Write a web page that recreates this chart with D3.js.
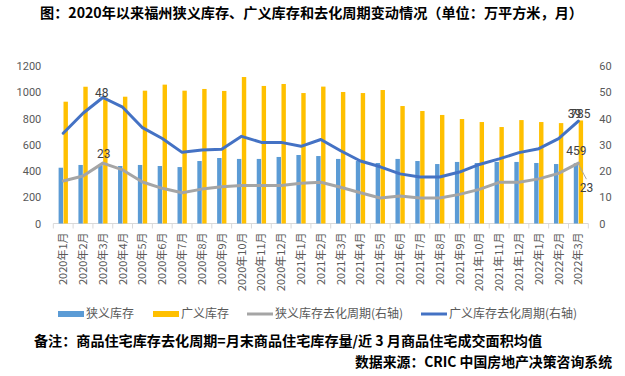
<!DOCTYPE html>
<html>
<head>
<meta charset="utf-8">
<script src="https://cdn.jsdelivr.net/npm/d3@7"></script>
<style>
  body { margin: 0; background: #fff; }
  svg text { font-family: "Noto Sans CJK SC", "Liberation Sans", sans-serif; }
  .num { font-family: Roboto, "Liberation Sans", sans-serif; }
</style>
</head>
<body>
<div id="chart"></div>
<script>
// months on the x axis
const months = ["2020年1月","2020年2月","2020年3月","2020年4月","2020年5月","2020年6月","2020年7月","2020年8月","2020年9月","2020年10月","2020年11月","2020年12月",
  "2021年1月","2021年2月","2021年3月","2021年4月","2021年5月","2021年6月","2021年7月","2021年8月","2021年9月","2021年10月","2021年11月","2021年12月",
  "2022年1月","2022年2月","2022年3月"]

// 狭义库存 / 广义库存 (万平方米, left axis)
const narrowStock = [425, 446, 445, 438, 446, 438, 430, 476, 499, 492, 492, 507, 522, 514, 492, 476, 461, 492, 476, 453, 469, 461, 469, 469, 461, 453, 459]
const broadStock = [928, 1042, 960, 966, 1012, 1058, 1012, 1025, 1010, 1116, 1048, 1063, 994, 1043, 1002, 994, 1017, 895, 857, 827, 796, 773, 735, 788, 773, 765, 785]

// 去化周期 (月, right axis)
const narrowCycle = [16.2, 18.1, 23, 20.4, 15.8, 13.4, 11.7, 13.1, 14.0, 14.5, 14.5, 14.5, 15.3, 15.7, 13.8, 11.7, 9.7, 10.5, 9.7, 9.7, 11.1, 13.0, 15.7, 15.7, 17.0, 19.1, 23]
const broadCycle = [34.4, 42, 48, 44.3, 36.5, 32.4, 27.1, 28, 28.3, 33.2, 30.9, 30.9, 29.4, 32, 27.7, 23.8, 21.6, 18.9, 17.7, 17.7, 19.6, 22.5, 24.6, 27, 28.5, 32.3, 39]

const leftTicks = [0, 200, 400, 600, 800, 1000, 1200]
const rightTicks = [0, 10, 20, 30, 40, 50, 60]

const seriesNames = ["狭义库存", "广义库存", "狭义库存去化周期(右轴)", "广义库存去化周期(右轴)"]
const titleText = "图：2020年以来福州狭义库存、广义库存和去化周期变动情况（单位：万平方米，月）"
const noteText = "备注：商品住宅库存去化周期=月末商品住宅库存量/近 3 月商品住宅成交面积均值"
const sourceText = "数据来源：CRIC 中国房地产决策咨询系统"

const colors = { narrow: "#5B9BD5", broad: "#FFC000", narrowLine: "#A5A5A5", broadLine: "#4472C4" }
const width = 625, height = 376
const plot = { left: 53.3, right: 588.3, top: 66, bottom: 223.5 }

let svg = d3.select("#chart").append("svg")
  .attr("width", width)
  .attr("height", height)

// scales
let x = d3.scaleBand()
  .domain(months)
  .range([plot.left, plot.right])
  .padding(0)
let yL = d3.scaleLinear().domain([0, 1200]).range([plot.bottom, plot.top])
let yR = d3.scaleLinear().domain([0, 60]).range([plot.bottom, plot.top])
let cx = m => x(m) + x.bandwidth() / 2

// title
svg.append("text")
  .attr("x", 40).attr("y", 18)
  .attr("textLength", 543).attr("lengthAdjust", "spacingAndGlyphs")
  .style("font-size", "14px").style("font-weight", "bold").attr("fill", "#000")
  .text(titleText)

// axes
let leftAxis = svg.append("g")
  .attr("transform", `translate(${plot.left - 9},0)`)
  .call(d3.axisLeft(yL).tickValues(leftTicks).tickSize(0).tickFormat(d3.format("d")))
let rightAxis = svg.append("g")
  .attr("transform", `translate(${plot.right + 9},0)`)
  .call(d3.axisRight(yR).tickValues(rightTicks).tickSize(0))
;[leftAxis, rightAxis].forEach(a => {
  a.select(".domain").remove()
  a.selectAll("text").attr("class", "num").style("font-size", "11px").attr("fill", "#595959")
})
leftAxis.selectAll("text").attr("x", -3)
rightAxis.selectAll("text").attr("x", 2)

// x axis baseline and boundary ticks
let xAxis = svg.append("g").attr("transform", `translate(0,${plot.bottom})`)
xAxis.append("line")
  .attr("x1", plot.left).attr("x2", plot.right)
  .attr("stroke", "#d9d9d9").attr("stroke-width", 1)
xAxis.selectAll(".bt")
  .data(months.concat([null]))
  .join("line")
  .attr("x1", d => d ? x(d) : plot.right).attr("x2", d => d ? x(d) : plot.right)
  .attr("y1", 0).attr("y2", 5)
  .attr("stroke", "#d9d9d9")
xAxis.selectAll(".lbl")
  .data(months)
  .join("text")
  .attr("transform", d => `translate(${cx(d) + 4},9) rotate(-90)`)
  .attr("text-anchor", "end")
  .style("font-size", "11px").attr("fill", "#595959")
  .text(d => d)

// bars
const barW = 4.4
svg.append("g").selectAll("rect")
  .data(months)
  .join("rect")
  .attr("x", d => cx(d) - barW - 0.2)
  .attr("width", barW)
  .attr("y", (d, i) => yL(narrowStock[i]))
  .attr("height", (d, i) => plot.bottom - yL(narrowStock[i]))
  .attr("fill", colors.narrow)
svg.append("g").selectAll("rect")
  .data(months)
  .join("rect")
  .attr("x", d => cx(d) + 0.3)
  .attr("width", barW)
  .attr("y", (d, i) => yL(broadStock[i]))
  .attr("height", (d, i) => plot.bottom - yL(broadStock[i]))
  .attr("fill", colors.broad)

// lines
const drawLine = (vals, color) => {
  let line = d3.line()
    .x((d, i) => cx(months[i]))
    .y(d => yR(d))
  svg.append("path")
    .datum(vals)
    .attr("d", line)
    .attr("fill", "none")
    .attr("stroke", color)
    .attr("stroke-width", 3)
    .attr("stroke-linejoin", "round")
    .attr("stroke-linecap", "round")
}
drawLine(narrowCycle, colors.narrowLine)
drawLine(broadCycle, colors.broadLine)

// data labels (the two at the last month overlap, as in the original)
const last = months.length - 1
const lbl = (px, py, txt) => svg.append("text")
  .attr("class", "num")
  .attr("x", px).attr("y", py)
  .attr("text-anchor", "middle")
  .style("font-size", "12px").attr("fill", "#404040")
  .text(txt)
lbl(cx(months[2]) - 1, yR(broadCycle[2]) - 1, broadCycle[2])
lbl(cx(months[2]) + 1, yR(narrowCycle[2]) - 5, narrowCycle[2])
lbl(cx(months[last]) - 4, yR(broadCycle[last]) - 3, broadCycle[last])
lbl(cx(months[last]) + 2, yL(broadStock[last]) - 2, broadStock[last])
lbl(cx(months[last]) - 2, yL(narrowStock[last]) - 8, narrowStock[last])
svg.append("line")
  .attr("x1", cx(months[last])).attr("y1", yR(narrowCycle[last]) + 1)
  .attr("x2", cx(months[last]) + 8).attr("y2", yR(narrowCycle[last]) + 16)
  .attr("stroke", "#A5A5A5").attr("stroke-width", 1)
lbl(cx(months[last]) + 8, yR(narrowCycle[last]) + 29, narrowCycle[last])

// legend
const legendItems = [
  { name: seriesNames[0], color: colors.narrow, type: "rect", x: 58 },
  { name: seriesNames[1], color: colors.broad, type: "rect", x: 153 },
  { name: seriesNames[2], color: colors.narrowLine, type: "line", x: 247 },
  { name: seriesNames[3], color: colors.broadLine, type: "line", x: 421 }
]
let legend = svg.append("g").attr("transform", "translate(0,314)")
legendItems.forEach(it => {
  if (it.type === "rect") {
    legend.append("rect").attr("x", it.x).attr("y", -3).attr("width", 26).attr("height", 6).attr("fill", it.color)
  } else {
    legend.append("line").attr("x1", it.x).attr("x2", it.x + 26).attr("y1", 0).attr("y2", 0)
      .attr("stroke", it.color).attr("stroke-width", 3)
  }
  legend.append("text")
    .attr("x", it.x + 28).attr("y", 4)
    .style("font-size", "12px").attr("fill", "#595959")
    .text(it.name)
})

// footnotes
svg.append("text")
  .attr("x", 34).attr("y", 346)
  .attr("textLength", 508).attr("lengthAdjust", "spacingAndGlyphs")
  .style("font-size", "14px").style("font-weight", "bold").attr("fill", "#000")
  .text(noteText)
svg.append("text")
  .attr("x", 355).attr("y", 367)
  .attr("textLength", 257).attr("lengthAdjust", "spacingAndGlyphs")
  .style("font-size", "14px").style("font-weight", "bold").attr("fill", "#000")
  .text(sourceText)
</script>
</body>
</html>
